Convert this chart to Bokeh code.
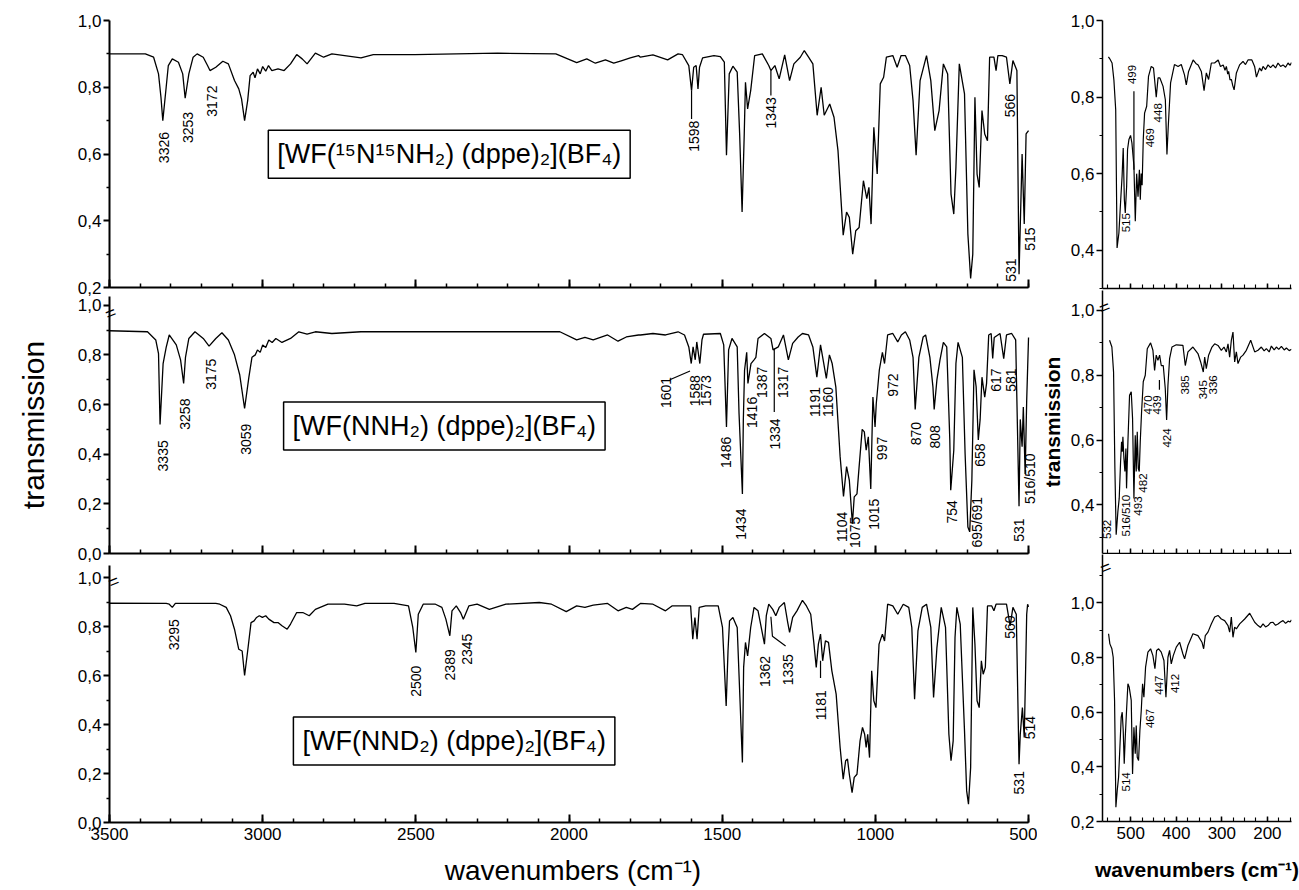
import numpy as np
from bokeh.plotting import figure
from bokeh.models import (Range1d, Label, LabelSet, ColumnDataSource, FixedTicker,
                          CustomJSTickFormatter, LinearAxis)
from bokeh.layouts import row, column
from bokeh.embed import file_html
from bokeh.resources import INLINE
from bokeh.core.properties import value

FONT = "Liberation Sans"

# ---------------- data: mid-IR spectra (wavenumber cm-1, transmission) -------------
tl_wn = [3500, 3383, 3356, 3340, 3332, 3326, 3315, 3308, 3295, 3275, 3261, 3253, 3241, 3227, 3214,
         3194, 3180, 3172, 3153, 3130, 3112, 3092, 3078, 3069, 3059, 3049, 3041, 3031, 3025, 3017,
         3008, 3000, 2990, 2981, 2970, 2950, 2930, 2909, 2889, 2871, 2855, 2828, 2801, 2774, 2679,
         2639, 2503, 2368, 2233, 2043, 1975, 1942, 1914, 1881, 1854, 1827, 1800, 1773, 1767, 1726,
         1678, 1644, 1630, 1609, 1600, 1593, 1585, 1579, 1574, 1564, 1527, 1506, 1493, 1486, 1477,
         1465, 1451, 1443, 1435, 1428, 1424, 1417, 1407, 1394, 1369, 1348, 1341, 1328, 1314, 1296,
         1280, 1266, 1245, 1232, 1218, 1204, 1190, 1177, 1167, 1149, 1135, 1122, 1105, 1094, 1085,
         1074, 1064, 1053, 1039, 1028, 1021, 1014, 1005, 994, 984, 973, 964, 943, 929, 916,
         902, 888, 877, 867, 854, 833, 819, 806, 792, 778, 764, 753, 744, 737, 726,
         709, 698, 689, 682, 675, 668, 661, 652, 643, 634, 627, 613, 606, 600, 586,
         572, 561, 551, 538, 531, 521, 514, 508, 500]
tl_t = [0.900, 0.900, 0.890, 0.840, 0.770, 0.700, 0.800, 0.865, 0.885, 0.875, 0.840, 0.767, 0.840, 0.890, 0.900,
        0.890, 0.865, 0.850, 0.860, 0.878, 0.870, 0.820, 0.795, 0.765, 0.700, 0.760, 0.835, 0.845, 0.828, 0.855,
        0.840, 0.862, 0.848, 0.865, 0.850, 0.855, 0.850, 0.870, 0.898, 0.885, 0.870, 0.902, 0.890, 0.900, 0.888,
        0.898, 0.898, 0.900, 0.902, 0.900, 0.874, 0.885, 0.872, 0.882, 0.872, 0.880, 0.888, 0.895, 0.890, 0.897,
        0.882, 0.900, 0.898, 0.865, 0.790, 0.860, 0.865, 0.795, 0.860, 0.888, 0.895, 0.892, 0.875, 0.596, 0.840,
        0.863, 0.845, 0.660, 0.426, 0.660, 0.815, 0.735, 0.790, 0.895, 0.900, 0.865, 0.850, 0.865, 0.825, 0.897,
        0.820, 0.870, 0.890, 0.910, 0.890, 0.870, 0.716, 0.800, 0.716, 0.750, 0.710, 0.610, 0.357, 0.426, 0.410,
        0.300, 0.370, 0.380, 0.520, 0.466, 0.500, 0.390, 0.680, 0.540, 0.810, 0.830, 0.890, 0.895, 0.860, 0.895,
        0.895, 0.865, 0.760, 0.596, 0.820, 0.895, 0.820, 0.670, 0.730, 0.870, 0.840, 0.480, 0.420, 0.560, 0.870,
        0.780, 0.360, 0.227, 0.300, 0.770, 0.540, 0.500, 0.730, 0.660, 0.640, 0.890, 0.890, 0.850, 0.895, 0.895,
        0.890, 0.810, 0.880, 0.850, 0.240, 0.600, 0.390, 0.660, 0.670]

ml_wn = [3500, 3376, 3349, 3340, 3335, 3325, 3315, 3305, 3282, 3268, 3258, 3252, 3241, 3221, 3194,
         3175, 3153, 3133, 3112, 3092, 3075, 3059, 3045, 3035, 3024, 3017, 3008, 3000, 2990, 2980,
         2969, 2957, 2937, 2909, 2882, 2855, 2828, 2774, 2679, 2503, 2030, 1975, 1948, 1921, 1874,
         1840, 1813, 1773, 1767, 1726, 1685, 1644, 1623, 1609, 1601, 1595, 1588, 1583, 1573, 1566,
         1561, 1506, 1495, 1486, 1479, 1468, 1451, 1445, 1434, 1431, 1427, 1420, 1416, 1406, 1396,
         1390, 1383, 1362, 1341, 1334, 1317, 1300, 1284, 1270, 1252, 1238, 1218, 1204, 1191, 1179,
         1160, 1150, 1141, 1129, 1115, 1104, 1094, 1085, 1075, 1069, 1060, 1053, 1043, 1036, 1030,
         1023, 1015, 1008, 1001, 997, 987, 977, 970, 960, 943, 927, 915, 902, 888, 877,
         870, 858, 844, 836, 822, 812, 808, 799, 789, 778, 767, 757, 754, 744, 737,
         730, 716, 707, 698, 692, 685, 678, 671, 664, 658, 652, 643, 637, 630, 622,
         617, 612, 593, 581, 572, 555, 542, 531, 527, 521, 517, 511, 506, 500]
ml_t = [0.897, 0.893, 0.860, 0.805, 0.520, 0.765, 0.830, 0.880, 0.840, 0.780, 0.685, 0.790, 0.866, 0.893, 0.866,
        0.835, 0.866, 0.889, 0.860, 0.800, 0.720, 0.584, 0.710, 0.790, 0.800, 0.820, 0.810, 0.840, 0.830, 0.860,
        0.850, 0.866, 0.850, 0.866, 0.893, 0.883, 0.893, 0.886, 0.893, 0.893, 0.893, 0.860, 0.870, 0.860, 0.880,
        0.855, 0.872, 0.880, 0.880, 0.886, 0.880, 0.893, 0.880, 0.832, 0.765, 0.832, 0.780, 0.852, 0.765, 0.860,
        0.883, 0.886, 0.840, 0.510, 0.820, 0.866, 0.832, 0.564, 0.240, 0.537, 0.738, 0.810, 0.685, 0.765, 0.780,
        0.790, 0.866, 0.886, 0.866, 0.820, 0.832, 0.880, 0.780, 0.846, 0.872, 0.886, 0.880, 0.832, 0.710, 0.840,
        0.705, 0.800, 0.765, 0.670, 0.390, 0.230, 0.350, 0.295, 0.120, 0.228, 0.240, 0.350, 0.500, 0.490, 0.416,
        0.470, 0.260, 0.630, 0.510, 0.604, 0.740, 0.810, 0.765, 0.880, 0.886, 0.852, 0.880, 0.893, 0.860, 0.790,
        0.580, 0.790, 0.872, 0.880, 0.790, 0.670, 0.580, 0.700, 0.780, 0.850, 0.832, 0.457, 0.255, 0.416, 0.765,
        0.850, 0.790, 0.400, 0.107, 0.087, 0.295, 0.740, 0.671, 0.457, 0.540, 0.710, 0.630, 0.685, 0.880, 0.886,
        0.785, 0.870, 0.886, 0.785, 0.880, 0.886, 0.860, 0.190, 0.540, 0.430, 0.590, 0.320, 0.617, 0.870]

bl_wn = [3500, 3315, 3305, 3295, 3285, 3153, 3140, 3119, 3105, 3092, 3078, 3067, 3059, 3049, 3038,
         3028, 3020, 3011, 3001, 2990, 2980, 2963, 2950, 2937, 2920, 2909, 2889, 2869, 2848, 2828,
         2787, 2733, 2693, 2666, 2571, 2524, 2510, 2500, 2492, 2476, 2436, 2415, 2402, 2389, 2382,
         2368, 2354, 2345, 2327, 2300, 2260, 2206, 2097, 2057, 2009, 1975, 1948, 1921, 1874, 1840,
         1813, 1793, 1767, 1726, 1685, 1664, 1630, 1603, 1596, 1589, 1582, 1575, 1554, 1513, 1499,
         1487, 1481, 1476, 1465, 1451, 1434, 1430, 1424, 1417, 1407, 1396, 1383, 1362, 1356, 1348,
         1335, 1325, 1314, 1297, 1286, 1280, 1270, 1256, 1238, 1225, 1211, 1201, 1193, 1186, 1179,
         1172, 1163, 1153, 1142, 1128, 1115, 1105, 1097, 1091, 1085, 1076, 1069, 1060, 1050, 1042,
         1035, 1030, 1025, 1019, 1012, 1005, 998, 988, 977, 970, 960, 943, 927, 909, 891,
         881, 872, 861, 847, 833, 819, 810, 799, 785, 771, 760, 753, 746, 740, 734,
         723, 709, 702, 696, 689, 682, 675, 668, 661, 654, 648, 641, 634, 620, 613,
         606, 572, 560, 551, 540, 531, 527, 520, 514, 510, 506, 503, 500]
bl_t = [0.895, 0.894, 0.891, 0.878, 0.894, 0.894, 0.891, 0.878, 0.844, 0.789, 0.707, 0.700, 0.600, 0.700, 0.816,
        0.823, 0.837, 0.844, 0.837, 0.844, 0.830, 0.816, 0.816, 0.803, 0.789, 0.810, 0.857, 0.857, 0.844, 0.870,
        0.891, 0.891, 0.884, 0.894, 0.894, 0.884, 0.796, 0.694, 0.850, 0.891, 0.891, 0.878, 0.830, 0.762, 0.864,
        0.884, 0.857, 0.830, 0.884, 0.891, 0.870, 0.891, 0.898, 0.891, 0.861, 0.884, 0.878, 0.887, 0.894, 0.864,
        0.878, 0.870, 0.894, 0.891, 0.864, 0.884, 0.884, 0.884, 0.748, 0.837, 0.748, 0.878, 0.884, 0.884, 0.796,
        0.476, 0.700, 0.823, 0.837, 0.796, 0.245, 0.633, 0.735, 0.680, 0.796, 0.878, 0.864, 0.728, 0.844, 0.891,
        0.870, 0.844, 0.878, 0.898, 0.816, 0.776, 0.837, 0.864, 0.907, 0.884, 0.850, 0.735, 0.633, 0.728, 0.769,
        0.660, 0.741, 0.735, 0.619, 0.524, 0.306, 0.177, 0.252, 0.259, 0.197, 0.122, 0.184, 0.197, 0.333, 0.388,
        0.360, 0.306, 0.360, 0.265, 0.619, 0.497, 0.469, 0.728, 0.769, 0.741, 0.891, 0.884, 0.850, 0.891, 0.878,
        0.796, 0.503, 0.782, 0.878, 0.891, 0.796, 0.510, 0.714, 0.878, 0.796, 0.360, 0.252, 0.333, 0.755, 0.878,
        0.810, 0.374, 0.129, 0.075, 0.224, 0.878, 0.728, 0.497, 0.469, 0.660, 0.605, 0.633, 0.884, 0.884, 0.864,
        0.891, 0.891, 0.803, 0.878, 0.850, 0.238, 0.360, 0.469, 0.347, 0.592, 0.850, 0.891, 0.880]

# ---------------- data: far-IR spectra -------------
tr_wn = [549, 546, 541, 537, 533, 530, 526, 522, 519, 516.5, 514, 512, 509, 507, 504,
         500.4, 497.4, 493, 490, 487, 484, 481, 479, 477, 475, 472.5, 469.6, 465, 461, 455,
         450, 444, 440, 436, 429, 424, 420.5, 417.6, 412.5, 404, 396, 389, 382, 378, 373,
         363, 357, 352, 345, 339, 334, 329, 323, 316, 308, 303, 297, 293, 290, 287,
         285, 282, 279, 276, 273, 268, 264, 261, 253.5, 248, 242.5, 234, 228, 224, 217,
         213, 209.5, 204, 198.5, 193, 187.5, 182, 176.6, 171, 165.6, 160, 154.6, 150, 147]
tr_t = [0.905, 0.900, 0.889, 0.845, 0.767, 0.406, 0.445, 0.532, 0.593, 0.667, 0.532, 0.497, 0.567, 0.663, 0.689,
        0.700, 0.680, 0.620, 0.476, 0.600, 0.540, 0.610, 0.532, 0.600, 0.570, 0.689, 0.758, 0.776, 0.854, 0.880,
        0.876, 0.800, 0.850, 0.850, 0.828, 0.793, 0.650, 0.723, 0.837, 0.885, 0.880, 0.885, 0.858, 0.832, 0.867,
        0.897, 0.888, 0.884, 0.867, 0.817, 0.863, 0.846, 0.889, 0.889, 0.897, 0.880, 0.884, 0.870, 0.880, 0.860,
        0.867, 0.845, 0.846, 0.830, 0.819, 0.863, 0.875, 0.884, 0.893, 0.885, 0.897, 0.897, 0.880, 0.852, 0.876,
        0.868, 0.880, 0.872, 0.884, 0.877, 0.884, 0.876, 0.889, 0.880, 0.884, 0.878, 0.889, 0.883, 0.890]

mr_wn = [546.5, 541.4, 537.7, 534.8, 532, 528.2, 525.3, 522.3, 520.1, 518.6, 517.2, 515, 512.8, 510.6, 509.2,
         506.2, 502.6, 498.9, 496, 493, 490.1, 487.9, 485.7, 483.5, 481.3, 479.1, 476.2, 472.5, 470.3, 468.1,
         463.7, 456.4, 451.3, 447.6, 444, 440.3, 436.6, 433, 428.6, 424.2, 421.2, 418.3, 414.7, 409.5, 400,
         385.4, 380.2, 374.4, 363.4, 352.4, 346.5, 340.7, 337.6, 334.1, 329, 321.6, 315.7, 308.4, 301.1, 295.2,
         290.1, 286.4, 282.8, 279.1, 275.5, 271.8, 268.1, 264.5, 258.6, 253.5, 246.2, 236.6, 227.8, 220.5, 213.2,
         207, 202.2, 196, 191.2, 185, 180.2, 175, 169.2, 163, 158.2, 152, 147]
mr_t = [0.908, 0.887, 0.810, 0.513, 0.308, 0.380, 0.420, 0.533, 0.595, 0.564, 0.610, 0.544, 0.503, 0.574, 0.451,
        0.595, 0.738, 0.749, 0.667, 0.420, 0.615, 0.503, 0.626, 0.513, 0.503, 0.595, 0.687, 0.780, 0.790, 0.800,
        0.882, 0.900, 0.877, 0.815, 0.862, 0.846, 0.862, 0.830, 0.830, 0.759, 0.662, 0.769, 0.851, 0.887, 0.894,
        0.892, 0.830, 0.872, 0.887, 0.867, 0.841, 0.810, 0.856, 0.820, 0.862, 0.887, 0.897, 0.892, 0.877, 0.887,
        0.872, 0.897, 0.856, 0.908, 0.933, 0.841, 0.872, 0.836, 0.856, 0.862, 0.877, 0.908, 0.872, 0.877, 0.887,
        0.875, 0.882, 0.872, 0.890, 0.878, 0.887, 0.880, 0.889, 0.878, 0.884, 0.876, 0.880]

br_wn = [548.7, 545.8, 541.4, 538.5, 535.5, 532.6, 529.7, 526.7, 523.8, 520.9, 518.7, 516.5, 514.3, 512, 509.2,
         506.2, 503.3, 498.9, 496, 493, 490.1, 487.9, 485.7, 482.8, 479.9, 476.9, 474, 471.1, 467.4, 462.3,
         456.4, 451.3, 446.9, 443.2, 438.8, 433, 427.1, 422.7, 418.3, 414.7, 411, 406.6, 400, 392.7, 385.4,
         381.7, 374.4, 363.4, 352.4, 343.6, 339.9, 336.3, 330.4, 323.1, 315.7, 308.4, 301.1, 293.8, 286.4, 282.8,
         279.1, 275.5, 271.8, 268.1, 260.8, 249.8, 238.8, 227.8, 220.5, 215, 209.5, 204, 198.5, 193, 187.5,
         182, 176.6, 171, 165.6, 160, 154.6, 150, 147]
br_t = [0.887, 0.850, 0.832, 0.801, 0.643, 0.252, 0.313, 0.362, 0.472, 0.582, 0.600, 0.533, 0.411, 0.509, 0.606,
        0.704, 0.691, 0.643, 0.374, 0.545, 0.448, 0.551, 0.435, 0.423, 0.533, 0.606, 0.704, 0.655, 0.765, 0.820,
        0.832, 0.807, 0.759, 0.826, 0.832, 0.820, 0.789, 0.655, 0.801, 0.826, 0.777, 0.807, 0.838, 0.856, 0.813,
        0.795, 0.844, 0.887, 0.880, 0.856, 0.832, 0.880, 0.893, 0.923, 0.948, 0.954, 0.941, 0.935, 0.917, 0.893,
        0.948, 0.874, 0.911, 0.905, 0.923, 0.941, 0.962, 0.929, 0.917, 0.910, 0.923, 0.912, 0.917, 0.928, 0.929,
        0.918, 0.923, 0.930, 0.935, 0.925, 0.933, 0.930, 0.938]

# ---------------- peak labels (text) -------------
tl_lab = ["3326", "3253", "3172", "1598", "1343", "566", "531", "515"]
ml_lab = ["3335", "3258", "3175", "3059", "1601", "1588", "1573", "1486", "1434", "1416", "1387", "1334",
          "1317", "1191", "1160", "1104", "1075", "1015", "997", "972", "870", "808", "754", "695/691",
          "658", "617", "581", "531", "516/510"]
bl_lab = ["3295", "2500", "2389", "2345", "1362", "1335", "1181", "560", "531", "514"]
tr_lab = ["499", "515", "469", "448"]
mr_lab = ["532", "516/510", "493", "482", "470", "439", "424", "385", "345", "336"]
br_lab = ["514", "467", "447", "412"]

compounds = ["[WF(\u00b9\u2075N\u00b9\u2075NH\u2082) (dppe)\u2082](BF\u2084)",
             "[WF(NNH\u2082) (dppe)\u2082](BF\u2084)",
             "[WF(NND\u2082) (dppe)\u2082](BF\u2084)"]

x_major_left = [3500, 3000, 2500, 2000, 1500, 1000, 500]
x_major_right = [500, 400, 300, 200]

# ---------------- layout positions of label anchors (x, top of text) -------------
tl_pos = ([3322, 3245, 3166, 1591, 1341, 562, 558, 494],
          [0.666, 0.726, 0.805, 0.700, 0.770, 0.780, 0.287, 0.380])
ml_pos = ([3325, 3252, 3170, 3055, 1685, 1589, 1554, 1486, 1438, 1403, 1369, 1328, 1300, 1197, 1156, 1108,
           1067, 1005, 977, 943, 867, 806, 751, 668, 657, 606, 558, 531, 496],
          [0.456, 0.624, 0.785, 0.523, 0.711, 0.718, 0.718, 0.470, 0.181, 0.631, 0.752, 0.544, 0.752, 0.671,
           0.671, 0.168, 0.148, 0.221, 0.470, 0.725, 0.530, 0.517, 0.215, 0.228, 0.443, 0.745, 0.745, 0.141, 0.403])
bl_pos = ([3288, 2499, 2388, 2334, 1359, 1284, 1179, 561, 531, 496],
          [0.830, 0.640, 0.707, 0.771, 0.680, 0.687, 0.540, 0.845, 0.210, 0.435])
tr_pos = ([497, 510, 458.6, 440], [0.884, 0.497, 0.719, 0.784])
mr_pos = ([551, 510, 484, 473, 462, 442, 420, 380, 341, 319],
          [0.354, 0.431, 0.426, 0.497, 0.738, 0.738, 0.636, 0.800, 0.785, 0.800])
br_pos = ([510, 458.6, 438.8, 402.2], [0.380, 0.612, 0.734, 0.740])

tl_leaders = [([1600, 1600], [0.79, 0.705]), ([1341, 1341], [0.85, 0.775])]
ml_leaders = [([1671, 1605], [0.700, 0.735]), ([1330, 1330], [0.826, 0.570])]
bl_leaders = [([1341, 1336, 1293], [0.84, 0.76, 0.72]), ([1179, 1179], [0.66, 0.59])]
tr_leaders = [([493, 493], [0.815, 0.61])]
mr_leaders = [([437, 437], [0.785, 0.755])]

comma_fmt = CustomJSTickFormatter(code="return tick.toFixed(1).replace('.', ',');")
blank_fmt = CustomJSTickFormatter(code="return '';")
break_fmt = CustomJSTickFormatter(code="return '=';")

TICK_FS = "17px"


def make_fig(w, h, xr, yr, lb, rb, tb, bb):
    p = figure(width=w, height=h, x_range=Range1d(*xr), y_range=Range1d(*yr),
               output_backend="svg", toolbar_location=None,
               min_border_left=lb, min_border_right=rb, min_border_top=tb, min_border_bottom=bb)
    p.outline_line_color = None
    p.xgrid.visible = False
    p.ygrid.visible = False
    p.background_fill_color = "white"
    p.border_fill_color = "white"
    return p


def style_axes(p, xmaj, xmin, xbounds, ymaj, ymin, show_x, lw, tick_fs, xtick_in, xminor_in):
    xa = p.xaxis[0]
    xa.ticker = FixedTicker(ticks=xmaj, minor_ticks=xmin)
    xa.bounds = xbounds
    xa.major_tick_in = xtick_in
    xa.major_tick_out = 0
    xa.minor_tick_in = xminor_in
    xa.minor_tick_out = 0
    xa.axis_line_width = lw
    xa.major_tick_line_width = lw
    xa.minor_tick_line_width = lw * 0.75
    xa.major_label_text_font = FONT
    xa.major_label_text_color = "black"
    if show_x:
        xa.major_label_text_font_size = tick_fs
        xa.major_label_standoff = 5
    else:
        xa.formatter = blank_fmt
        xa.major_label_text_font_size = "1px"
        xa.major_label_standoff = 0
    ya = p.yaxis[0]
    ya.ticker = FixedTicker(ticks=ymaj, minor_ticks=ymin)
    ya.formatter = comma_fmt
    ya.major_tick_in = 0
    ya.major_tick_out = 6
    ya.minor_tick_in = 0
    ya.minor_tick_out = 3
    ya.axis_line_width = lw
    ya.major_tick_line_width = lw
    ya.minor_tick_line_width = lw * 0.75
    ya.major_label_text_font = FONT
    ya.major_label_text_font_size = tick_fs
    ya.major_label_text_color = "black"
    ya.major_label_standoff = 2


def add_peaks(p, labels, pos, fs, leaders=()):
    src = ColumnDataSource(dict(x=pos[0], y=pos[1], text=labels))
    p.add_layout(LabelSet(x="x", y="y", text="text", source=src, angle=np.pi / 2,
                          text_align="right", text_baseline="middle", level="overlay",
                          text_font=value(FONT), text_font_size=fs, text_color="black"))
    for xs, ys in leaders:
        p.line(xs, ys, line_color="black", line_width=1.2)


def add_break(p, yv, standoff):
    # axis-break mark drawn as the only tick label of a line-less secondary axis
    ax = LinearAxis(ticker=FixedTicker(ticks=[yv], minor_ticks=[]), formatter=break_fmt,
                    axis_line_color=None, major_tick_line_color=None, minor_tick_line_color=None,
                    major_tick_out=0, major_tick_in=0, minor_tick_out=0, minor_tick_in=0,
                    major_label_orientation=0.38, major_label_standoff=standoff,
                    major_label_text_font=FONT, major_label_text_font_size="18px",
                    major_label_text_color="black")
    p.add_layout(ax, "left")


def add_compound(p, x, y, txt):
    p.add_layout(Label(x=x, y=y, text=txt, text_align="center", text_baseline="middle",
                       text_font=FONT, text_font_size="27px", text_color="black",
                       border_line_color="black", border_line_width=1.5,
                       background_fill_color="white", padding=9))


LW, RW = 1037, 262
xl = (3500, 474)
xr_ = (562, 147)
x_minor_left = list(range(500, 3501, 100))
x_minor_right = list(range(150, 551, 25))
LB = (500, 3500)
RBD = (147, 562)

# ---- left column ----
p1 = make_fig(LW, 296, xl, (0.2, 1.0), 109, 1, 20, 9)
style_axes(p1, x_major_left, x_minor_left, LB, [0.2, 0.4, 0.6, 0.8, 1.0], [0.3, 0.5, 0.7, 0.9], False, 2, TICK_FS, 8, 4)
p1.line(tl_wn, tl_t, line_color="black", line_width=1.3)
add_peaks(p1, tl_lab, tl_pos, "14px", tl_leaders)
add_compound(p1, 2391, 0.599, compounds[0])

p2 = make_fig(LW, 269, xl, (0.0, 1.035), 109, 1, 0, 12)
style_axes(p2, x_major_left, x_minor_left, LB, [0.0, 0.2, 0.4, 0.6, 0.8, 1.0], [0.1, 0.3, 0.5, 0.7, 0.9], False, 2, TICK_FS, 8, 4)
p2.line(ml_wn, ml_t, line_color="black", line_width=1.3)
add_peaks(p2, ml_lab, ml_pos, "14px", ml_leaders)
add_compound(p2, 2407, 0.513, compounds[1])
p2.yaxis[0].axis_label = "transmission"
p2.yaxis[0].axis_label_text_font = FONT
p2.yaxis[0].axis_label_text_font_style = "normal"
p2.yaxis[0].axis_label_text_font_size = "30px"
p2.yaxis[0].axis_label_text_color = "black"
p2.yaxis[0].axis_label_standoff = 25
add_break(p2, 1.02, -102)

p3 = make_fig(LW, 325, xl, (0.0, 1.049), 109, 1, 0, 68)
style_axes(p3, x_major_left, x_minor_left, LB, [0.0, 0.2, 0.4, 0.6, 0.8, 1.0], [0.1, 0.3, 0.5, 0.7, 0.9], True, 2, TICK_FS, 8, 4)
p3.line(bl_wn, bl_t, line_color="black", line_width=1.3)
add_peaks(p3, bl_lab, bl_pos, "14px", bl_leaders)
add_compound(p3, 2375, 0.333, compounds[2])
add_break(p3, 1.031, -44)
p3.xaxis[0].axis_label = "wavenumbers (cm\u207b\u00b9)"
p3.xaxis[0].axis_label_text_font = FONT
p3.xaxis[0].axis_label_text_font_style = "normal"
p3.xaxis[0].axis_label_text_font_size = "28px"
p3.xaxis[0].axis_label_text_color = "black"
p3.xaxis[0].axis_label_standoff = 12

# ---- right column ----
q1 = make_fig(RW, 290, xr_, (0.30, 1.0), 63, 8, 20, 2)
style_axes(q1, x_major_right, x_minor_right, RBD, [0.4, 0.6, 0.8, 1.0], [0.3, 0.5, 0.7, 0.9], False, 1.5, TICK_FS, 5, 4)
q1.line(tr_wn, tr_t, line_color="black", line_width=1.2)
add_peaks(q1, tr_lab, tr_pos, "11.5px", tr_leaders)

q2 = make_fig(RW, 264, xr_, (0.25, 1.0615), 63, 8, 0, 1)
style_axes(q2, x_major_right, x_minor_right, RBD, [0.4, 0.6, 0.8, 1.0], [0.3, 0.5, 0.7, 0.9], False, 1.5, TICK_FS, 5, 4)
q2.line(mr_wn, mr_t, line_color="black", line_width=1.2)
add_peaks(q2, mr_lab, mr_pos, "11.5px", mr_leaders)
q2.yaxis[0].axis_label = "transmission"
q2.yaxis[0].axis_label_text_font = FONT
q2.yaxis[0].axis_label_text_font_style = "bold"
q2.yaxis[0].axis_label_text_font_size = "21px"
q2.yaxis[0].axis_label_text_color = "black"
q2.yaxis[0].axis_label_standoff = 4
add_break(q2, 1.015, -72)

q3 = make_fig(RW, 336, xr_, (0.2, 1.177), 63, 8, 0, 69)
style_axes(q3, x_major_right, x_minor_right, RBD, [0.2, 0.4, 0.6, 0.8, 1.0], [0.3, 0.5, 0.7, 0.9, 1.1], True, 1.5, TICK_FS, 5, 4)
q3.line(br_wn, br_t, line_color="black", line_width=1.2)
add_peaks(q3, br_lab, br_pos, "11.5px")
add_break(q3, 1.15, -43)
q3.xaxis[0].axis_label = "wavenumbers (cm\u207b\u00b9)"
q3.xaxis[0].axis_label_text_font = FONT
q3.xaxis[0].axis_label_text_font_style = "bold"
q3.xaxis[0].axis_label_text_font_size = "21px"
q3.xaxis[0].axis_label_text_color = "black"
q3.xaxis[0].axis_label_standoff = 16

layout = row(column(p1, p2, p3), column(q1, q2, q3))
open("out.html", "w").write(file_html(layout, INLINE))
